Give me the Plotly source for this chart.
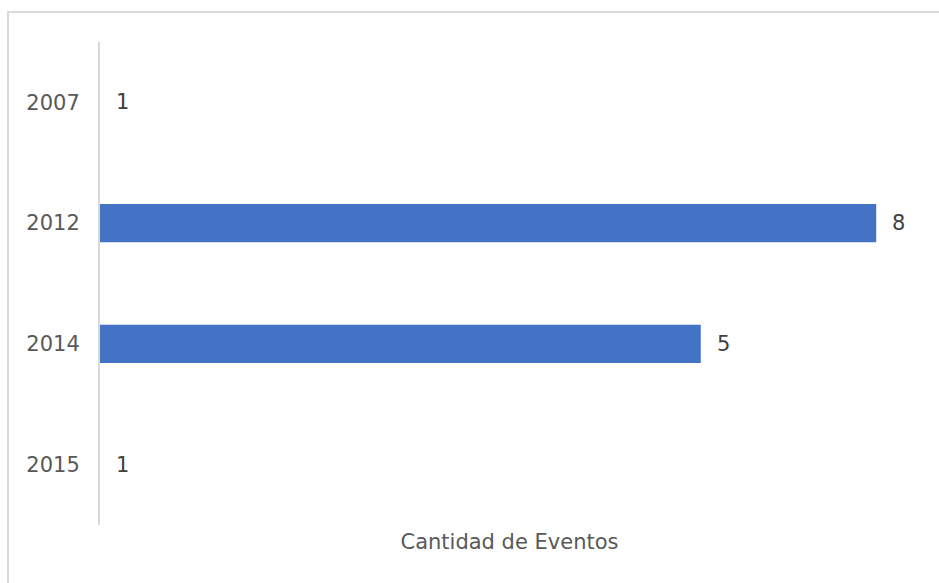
import math
import plotly.graph_objects as go

years = ["2007", "2012", "2014", "2015"]
events = [1, 8, 5, 1]
axis_title = "Cantidad de Eventos"

W, H = 939, 583
ml, mr, mt, mb = 100, 20, 42, 58
pw, ph = W - ml - mr, H - mt - mb
px_per_decade = 859.5

fig = go.Figure()
fig.add_trace(go.Bar(
    x=events, y=years, orientation="h",
    marker=dict(color="#4472C4", line=dict(width=0)),
    width=0.315, hoverinfo="skip",
))

for i, v in enumerate(events):
    fig.add_annotation(
        x=math.log10(v), y=i, xref="x", yref="y", text=str(v),
        showarrow=False, xanchor="left", yanchor="middle", xshift=14,
        font=dict(family="DejaVu Sans, Verdana, sans-serif", size=21, color="#404040"),
    )

# chart frame
fig.add_shape(
    type="rect", xref="paper", yref="paper",
    x0=(8 - ml) / pw, x1=1.1, y0=-0.3, y1=1 + (mt - 12) / ph,
    line=dict(color="#D9D9D9", width=2), fillcolor="rgba(0,0,0,0)", layer="below",
)

fig.update_layout(
    width=W, height=H,
    margin=dict(l=ml, r=mr, t=mt, b=mb),
    paper_bgcolor="white", plot_bgcolor="white",
    showlegend=False,
    font=dict(family="DejaVu Sans, Verdana, sans-serif", size=21, color="#595959"),
    xaxis=dict(
        type="log", range=[0, pw / px_per_decade],
        showgrid=False, zeroline=False, showline=False,
        showticklabels=False, ticks="",
        title=dict(text=axis_title, standoff=9,
                   font=dict(size=21, color="#595959")),
        automargin=False,
    ),
    yaxis=dict(
        type="category", categoryorder="array", categoryarray=years,
        range=[len(years) - 0.5, -0.5],
        showgrid=False, zeroline=False,
        showline=True, linecolor="#D9D9D9", linewidth=2,
        ticks="", ticklabelstandoff=14,
        tickfont=dict(size=21, color="#595959"),
        automargin=False,
    ),
)

fig.write_html("out.html")
